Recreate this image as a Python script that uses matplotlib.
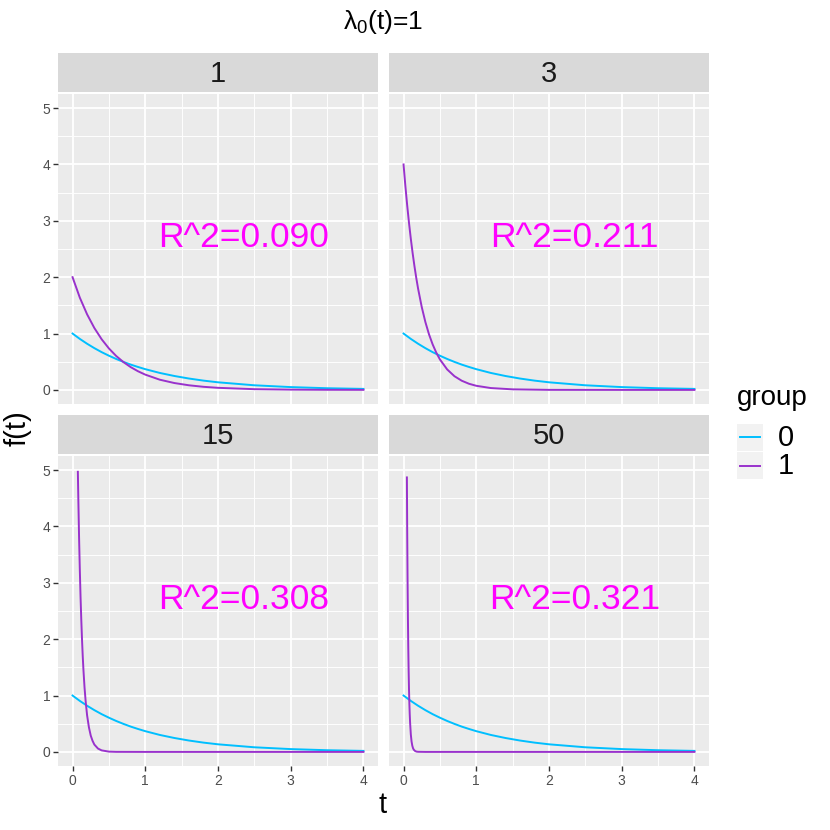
import numpy as np
import matplotlib.pyplot as plt
from matplotlib.lines import Line2D

plt.rcParams['font.family'] = ['Liberation Sans', 'DejaVu Sans']

# panel labels (hazard ratio) and R^2 annotations
panels = ['1', '3', '15', '50']
r2_labels = ['R^2=0.090', 'R^2=0.211', 'R^2=0.308', 'R^2=0.321']

# group 0 density, same in every panel
t0 = [0, 0.1, 0.2, 0.3, 0.4, 0.5, 0.6, 0.7, 0.8, 0.9, 1.0, 1.2, 1.4, 1.6, 1.8, 2.0,
      2.5, 3.0, 3.5, 4.0]
f0 = [1.0, 0.905, 0.819, 0.741, 0.670, 0.607, 0.549, 0.497, 0.449, 0.407, 0.368,
      0.301, 0.247, 0.202, 0.165, 0.135, 0.082, 0.050, 0.030, 0.018]

# group 1 density per panel
t1_hr1 = [0, 0.1, 0.2, 0.3, 0.4, 0.5, 0.6, 0.7, 0.8, 0.9, 1.0, 1.2, 1.4, 1.6, 1.8,
          2.0, 2.5, 3.0, 3.5, 4.0]
f1_hr1 = [2.0, 1.637, 1.341, 1.098, 0.899, 0.736, 0.602, 0.493, 0.404, 0.331, 0.271,
          0.181, 0.122, 0.082, 0.055, 0.037, 0.013, 0.005, 0.002, 0.001]

t1_hr3 = [0, 0.025, 0.05, 0.075, 0.1, 0.125, 0.15, 0.175, 0.2, 0.25, 0.3, 0.35, 0.4,
          0.45, 0.5, 0.6, 0.7, 0.8, 0.9, 1.0, 1.2, 1.5, 2.0, 3.0, 4.0]
f1_hr3 = [4.0, 3.619, 3.275, 2.963, 2.681, 2.426, 2.195, 1.986, 1.797, 1.472, 1.205,
          0.986, 0.808, 0.661, 0.541, 0.363, 0.243, 0.163, 0.109, 0.073, 0.033,
          0.010, 0.001, 0.0, 0.0]

t1_hr15 = [0.073, 0.08, 0.09, 0.1, 0.11, 0.12, 0.13, 0.14, 0.15, 0.165, 0.18, 0.2,
           0.225, 0.25, 0.275, 0.3, 0.35, 0.4, 0.5, 0.6, 1.0, 4.0]
f1_hr15 = [4.97, 4.45, 3.79, 3.23, 2.75, 2.35, 2.00, 1.70, 1.45, 1.14, 0.90, 0.65,
           0.437, 0.29, 0.197, 0.13, 0.059, 0.027, 0.005, 0.001, 0.0, 0.0]

t1_hr50 = [0.046, 0.05, 0.055, 0.06, 0.065, 0.07, 0.075, 0.08, 0.085, 0.09, 0.1,
           0.11, 0.12, 0.13, 0.14, 0.16, 0.18, 0.2, 0.3, 4.0]
f1_hr50 = [4.87, 3.98, 3.09, 2.39, 1.85, 1.44, 1.11, 0.86, 0.67, 0.52, 0.31, 0.187,
           0.112, 0.067, 0.040, 0.015, 0.005, 0.002, 0.0, 0.0]

t1_list = [t1_hr1, t1_hr3, t1_hr15, t1_hr50]
f1_list = [f1_hr1, f1_hr3, f1_hr15, f1_hr50]

col0 = '#00BFFF'
col1 = '#9932CC'
W = H = 830.0

fig = plt.figure(figsize=(8.3, 8.3), dpi=100)


def box(x0, y0, x1, y1):
    # pixel box (top-left origin) -> figure fraction
    return [x0 / W, 1 - y1 / H, (x1 - x0) / W, (y1 - y0) / H]


cols_px = [(58, 378), (389, 709)]
rows_px = [((53, 92), (94, 404)), ((415, 454), (456, 766))]

for i in range(4):
    r, c = divmod(i, 2)
    xl, xr = cols_px[c]
    (st, sb), (pt, pb) = rows_px[r]

    sax = fig.add_axes(box(xl, st, xr, sb))
    sax.set_facecolor('#D9D9D9')
    sax.set_xticks([])
    sax.set_yticks([])
    for s in sax.spines.values():
        s.set_visible(False)
    sax.text(0.5, 0.47, panels[i], ha='center', va='center', fontsize=21,
             color='#1A1A1A', transform=sax.transAxes)

    ax = fig.add_axes(box(xl, pt, xr, pb))
    ax.set_facecolor('#EBEBEB')
    ax.set_xlim(-0.2, 4.2)
    ax.set_ylim(-0.25, 5.25)
    ax.set_xticks([0, 1, 2, 3, 4])
    ax.set_yticks([0, 1, 2, 3, 4, 5])
    ax.set_xticks([0.5, 1.5, 2.5, 3.5], minor=True)
    ax.set_yticks([0.5, 1.5, 2.5, 3.5, 4.5], minor=True)
    ax.grid(which='major', color='white', lw=1.3)
    ax.grid(which='minor', color='white', lw=0.65)
    ax.set_axisbelow(True)
    for s in ax.spines.values():
        s.set_visible(False)
    ax.tick_params(which='minor', length=0)
    ax.tick_params(which='major', length=3.5, width=1, color='#333333',
                   labelcolor='#4D4D4D', labelsize=10, pad=2)
    if r == 0:
        ax.tick_params(axis='x', labelbottom=False, length=0)
    if c == 1:
        ax.tick_params(axis='y', labelleft=False, length=0)

    ax.plot(t0, f0, color=col0, lw=1.4)
    ax.plot(t1_list[i], f1_list[i], color=col1, lw=1.4)
    ax.text(2.35, 2.7, r2_labels[i], color='#FF00FF', fontsize=25.5,
            ha='center', va='center')

fig.text(383 / W, 1 - 22 / H, r'$\mathregular{\lambda_0}$(t)=1', ha='center',
         va='center', fontsize=19)
fig.text(383 / W, 1 - 805 / H, 't', ha='center', va='center', fontsize=21)
fig.text(18 / W, 1 - 428 / H, 'f(t)', ha='center', va='center', fontsize=21,
         rotation=90)

# legend
fig.text(737 / W, 1 - 398 / H, 'group', ha='left', va='center', fontsize=20)
for k, (yc, col, lab) in enumerate([(437, col0, '0'), (465, col1, '1')]):
    kax = fig.add_axes(box(737, yc - 13, 763, yc + 14))
    kax.set_facecolor('#F2F2F2')
    kax.set_xlim(0, 1)
    kax.set_ylim(0, 1)
    kax.set_xticks([])
    kax.set_yticks([])
    for s in kax.spines.values():
        s.set_visible(False)
    kax.add_line(Line2D([0.12, 0.88], [0.5, 0.5], color=col, lw=1.4))
    fig.text(778 / W, 1 - (yc + 1) / H, lab, ha='left', va='center', fontsize=21)

fig.savefig('out.png', dpi=100)
